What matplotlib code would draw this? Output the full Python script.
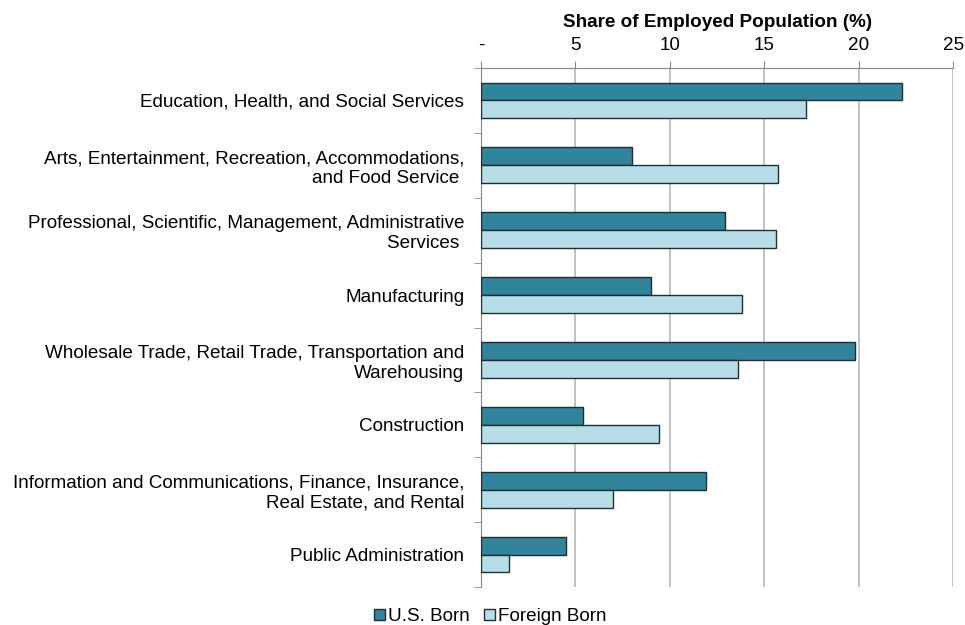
import numpy as np
import matplotlib.pyplot as plt

plt.rcParams['font.family'] = ['Liberation Sans', 'DejaVu Sans']

# industries, top to bottom
industries = [
    "Education, Health, and Social Services",
    "Arts, Entertainment, Recreation, Accommodations,\nand Food Service ",
    "Professional, Scientific, Management, Administrative\nServices ",
    "Manufacturing",
    "Wholesale Trade, Retail Trade, Transportation and\nWarehousing",
    "Construction",
    "Information and Communications, Finance, Insurance,\nReal Estate, and Rental",
    "Public Administration",
]
us_born = [22.3, 8.0, 12.9, 9.0, 19.8, 5.4, 11.9, 4.5]
foreign_born = [17.2, 15.7, 15.6, 13.8, 13.6, 9.4, 7.0, 1.5]

xticks = [0, 5, 10, 15, 20, 25]
xtick_labels = ['-', '5', '10', '15', '20', '25']

fs = 13.6

fig = plt.figure(figsize=(9.65, 6.25), dpi=100)
ax = fig.add_axes([0.4984, 0.0608, 0.4895, 0.8304])

y = np.arange(len(industries))
h = 0.275
ax.barh(y - h / 2, us_born, height=h, color='#31849B', edgecolor='#1e2e33',
        linewidth=1, label='U.S. Born', zorder=3)
ax.barh(y + h / 2, foreign_born, height=h, color='#B7DEE8', edgecolor='#1e2e33',
        linewidth=1, label='Foreign Born', zorder=3)

ax.set_ylim(len(industries) - 0.5, -0.5)
ax.set_xlim(0, 25)

ax.xaxis.tick_top()
ax.xaxis.set_label_position('top')
ax.set_xticks(xticks)
ax.set_xticklabels(xtick_labels, fontsize=fs)
ax.tick_params(axis='x', length=5, color='#888888', pad=5)
ax.set_xlabel('Share of Employed Population (%)', fontsize=fs, fontweight='bold', labelpad=7)

ax.set_yticks(y)
ax.set_yticklabels(industries, fontsize=fs, ha='right')
ax.tick_params(axis='y', length=0, pad=12)
ax.set_yticks(np.arange(len(industries) + 1) - 0.5, minor=True)
ax.tick_params(axis='y', which='minor', length=5, color='#888888')

ax.grid(axis='x', color='#b8b8b8', linewidth=1.2, zorder=0)
for s in ['right', 'bottom']:
    ax.spines[s].set_visible(False)
ax.spines['top'].set_color('#888888')
ax.spines['left'].set_color('#888888')

fig.legend(loc='lower center', bbox_to_anchor=(0.508, -0.027), ncol=2, frameon=False,
           fontsize=fs, handlelength=0.55, handleheight=0.55, handletextpad=0.15,
           columnspacing=0.8)

fig.savefig('out.png', dpi=100)
